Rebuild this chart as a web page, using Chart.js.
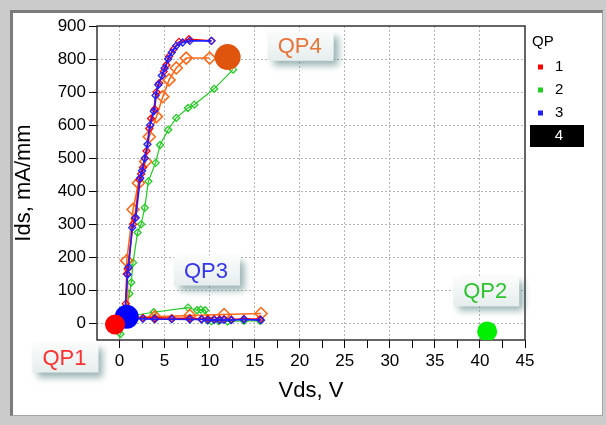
<!DOCTYPE html>
<html>
<head>
<meta charset="utf-8">
<script src="https://cdn.jsdelivr.net/npm/chart.js@4/dist/chart.umd.min.js"></script>
<style>
  html, body { margin: 0; padding: 0; background: #cbcbcb; }
  #wrap { position: relative; width: 606px; height: 425px; overflow: hidden; }
  #panel {
    position: absolute; left: 10px; top: 10px; width: 589px; height: 402px;
    background: #fff;
    border-top: 3px solid #7c7c7c; border-left: 3px solid #7c7c7c;
    border-right: 1px solid #a4a4a4; border-bottom: 1px solid #a4a4a4;
  }
  canvas { position: absolute; left: 0; top: 0; }
</style>
</head>
<body>
<div id="wrap">
  <div id="panel"></div>
  <canvas id="chart" width="606" height="425"></canvas>
</div>
<script>
// QP series names and colours
const qpNames = ["1", "2", "3", "4"];
const qpColors = ["#ff0000", "#22cc22", "#1f1fff", "#ff6a1a"];

// tick labels
const xTicks = [0, 5, 10, 15, 20, 25, 30, 35, 40, 45];
const yTicks = [0, 100, 200, 300, 400, 500, 600, 700, 800, 900];

// QP1 (red)
const vds1 = [15.6, 13.8, 12.4, 11.6, 11.1, 10.5, 9.8, 9.1, 7.8, 5.8, 3.9, 2.6, 1.2, 0.6, 0.7, 0.8, 0.9, 1.5, 1.7, 2.2, 2.4, 2.6, 3.0, 3.3, 3.5, 3.9, 4.1, 4.4, 4.9, 5.2, 5.5, 6.0, 6.6, 7.7, 10.2];
const ids1 = [13, 14, 12, 13, 12, 13, 14, 14, 16, 16, 17, 17, 18, 22, 60, 150, 165, 300, 318, 435, 452, 472, 522, 590, 620, 648, 700, 727, 762, 782, 808, 830, 852, 860, 855];

// QP2 (green)
const vds2 = [15.6, 13.8, 12.0, 11.0, 10.2, 9.8, 9.5, 9.0, 8.6, 7.6, 3.8, 1.0, 0.1, 1.1, 1.3, 1.5, 2.0, 2.4, 2.8, 3.2, 4.0, 4.5, 5.4, 6.3, 7.6, 8.3, 10.5, 12.6];
const ids2 = [8, 8, 6, 7, 7, 9, 40, 42, 40, 48, 34, 22, -32, 90, 124, 184, 275, 300, 350, 430, 486, 540, 586, 622, 652, 662, 710, 768];

// QP3 (blue)
const vds3 = [15.7, 13.8, 12.4, 11.6, 11.1, 10.5, 9.8, 9.1, 7.8, 5.8, 3.9, 2.6, 1.0, 0.6, 0.9, 1.0, 1.4, 1.8, 2.3, 2.5, 2.8, 3.1, 3.4, 3.8, 4.0, 4.3, 4.7, 5.0, 5.4, 5.8, 6.3, 7.0, 7.8, 10.2];
const ids3 = [10, 12, 10, 11, 10, 11, 10, 12, 12, 13, 13, 14, 15, 40, 148, 170, 290, 320, 440, 462, 500, 542, 600, 642, 690, 722, 750, 772, 800, 820, 840, 850, 855, 855];

// QP4 (orange)
const vds4 = [15.7, 11.6, 7.8, 3.9, 1.0, 0.8, 1.5, 2.1, 2.9, 3.3, 4.1, 4.8, 5.5, 6.3, 7.4, 10.0];
const ids4 = [30, 27, 24, 20, 18, 190, 345, 425, 490, 565, 626, 686, 737, 773, 803, 803];

// quiescent points (big dots) for QP1..QP4
const qpVds = [-0.5, 40.8, 0.8, 12.0];
const qpIds = [-3, -24, 20, 806];
const qpDotColors = ["#ff0000", "#00ee00", "#0000ff", "#e0550e"];

// labels next to quiescent points
const tagText = ["QP1", "QP2", "QP3", "QP4"];
const tagColors = ["#ff3030", "#2fc42f", "#3535ee", "#e8743a"];

const xTitle = "Vds, V";
const yTitle = "Ids, mA/mm";
const legendTitle = "QP";

function pts(xs, ys) {
  return xs.map((x, i) => ({ x: x, y: ys[i] }));
}

const lineSets = [[vds1, ids1], [vds2, ids2], [vds3, ids3], [vds4, ids4]];
const lineOrder = [4, 6, 3, 5];
const datasets = [];

lineSets.forEach((s, i) => {
  const big = i === 3;
  datasets.push({
    label: qpNames[i],
    data: pts(s[0], s[1]),
    showLine: true,
    borderColor: qpColors[i],
    backgroundColor: qpColors[i],
    borderWidth: i === 1 ? 1.2 : 1.6,
    pointStyle: "rectRot",
    pointRadius: big ? 6 : 3.5,
    pointBorderWidth: big ? 1.6 : 1.3,
    pointBackgroundColor: "rgba(255,255,255,0)",
    pointBorderColor: qpColors[i],
    order: lineOrder[i]
  });
});

const dotRadius = [10, 10, 12, 13];
const dotOrder = [1, 1, 2, 0];
qpVds.forEach((v, i) => {
  datasets.push({
    label: "qp" + qpNames[i],
    data: [{ x: v, y: qpIds[i] }],
    showLine: false,
    pointStyle: "circle",
    pointRadius: dotRadius[i],
    pointBackgroundColor: qpDotColors[i],
    pointBorderColor: qpDotColors[i],
    borderWidth: 0,
    order: dotOrder[i]
  });
});

const FONT = "'Liberation Sans', Arial, sans-serif";

const decor = {
  id: "decor",
  beforeDatasetsDraw(chart) {
    const { ctx, chartArea: a } = chart;
    ctx.save();
    ctx.strokeStyle = "#333";
    ctx.lineWidth = 1.5;
    ctx.strokeRect(a.left, a.top, a.right - a.left, a.bottom - a.top);
    ctx.restore();
  },
  afterDraw(chart) {
    const { ctx } = chart;
    const xs = chart.scales.x, ys = chart.scales.y;

    // tags near the QP dots
    const tagPos = [[-6.0, -103], [40.7, 97], [9.7, 160], [20.1, 840]];
    tagText.forEach((t, i) => {
      const cx = xs.getPixelForValue(tagPos[i][0]);
      const cy = ys.getPixelForValue(tagPos[i][1]);
      const w = 66, h = 30;
      ctx.save();
      ctx.shadowColor = "rgba(70,115,115,0.55)";
      ctx.shadowBlur = 7;
      ctx.shadowOffsetX = 5;
      ctx.shadowOffsetY = 5;
      const g = ctx.createLinearGradient(0, cy - h / 2, 0, cy + h / 2);
      g.addColorStop(0, "#fbfcfc");
      g.addColorStop(1, "#e6eded");
      ctx.fillStyle = g;
      ctx.fillRect(cx - w / 2, cy - h / 2, w, h);
      ctx.restore();
      ctx.save();
      ctx.font = "22px " + FONT;
      ctx.fillStyle = tagColors[i];
      ctx.textAlign = "center";
      ctx.textBaseline = "middle";
      ctx.fillText(t, cx - 1, cy + 1);
      ctx.restore();
    });

    // legend on the right
    ctx.save();
    ctx.font = "15px " + FONT;
    ctx.fillStyle = "#000";
    ctx.textBaseline = "middle";
    ctx.textAlign = "left";
    ctx.fillText(legendTitle, 532, 42);
    qpNames.forEach((n, i) => {
      const y = 67 + i * 23;
      if (i === 3) {
        ctx.fillStyle = "#000";
        ctx.fillRect(530, y - 11, 54, 22);
        ctx.fillStyle = "#fff";
        ctx.textAlign = "center";
        ctx.fillText(n, 559, y);
      } else {
        ctx.fillStyle = qpColors[i];
        ctx.fillRect(538, y - 2.5, 5, 5);
        ctx.fillStyle = "#000";
        ctx.textAlign = "left";
        ctx.fillText(n, 555, y);
      }
    });
    ctx.restore();
  }
};

Chart.defaults.font.family = FONT;
Chart.defaults.color = "#000";

new Chart(document.getElementById("chart"), {
  type: "scatter",
  data: { datasets: datasets },
  options: {
    responsive: false,
    devicePixelRatio: 1,
    animation: false,
    layout: { padding: { left: 0, right: 81, top: 26, bottom: 0 } },
    plugins: {
      legend: { display: false },
      tooltip: { enabled: false }
    },
    scales: {
      x: {
        type: "linear",
        min: -2.5,
        max: 45,
        afterFit: (s) => { s.height = 85; },
        // major ticks every 5 plus minor ticks halfway between
        afterBuildTicks: (s) => {
          const t = [];
          xTicks.forEach((v) => { t.push({ value: v }); if (v < 45) t.push({ value: v + 2.5 }); });
          s.ticks = t;
        },
        title: { display: true, text: xTitle, font: { size: 22 }, padding: { top: 0, bottom: 21 } },
        ticks: {
          autoSkip: false,
          maxRotation: 0,
          padding: 3,
          font: { size: 17 },
          callback: (v) => (xTicks.includes(v) ? String(v) : "")
        },
        grid: {
          color: (c) => (c.tick && xTicks.includes(c.tick.value) && c.tick.value < 45 ? "#b5b5b5" : "rgba(0,0,0,0)"),
          tickColor: "#000",
          tickLength: 8,
          lineWidth: 1
        },
        border: { display: false, dash: [2, 2] }
      },
      y: {
        type: "linear",
        min: -50,
        max: 900,
        afterFit: (s) => { s.width = 97; },
        afterBuildTicks: (s) => { s.ticks = yTicks.map((v) => ({ value: v })); },
        title: { display: true, text: yTitle, font: { size: 22 }, padding: { top: 11, bottom: 0 } },
        ticks: {
          autoSkip: false,
          padding: 3,
          font: { size: 17 },
          callback: (v) => String(v)
        },
        grid: {
          color: (c) => (c.tick && c.tick.value < 900 ? "#b5b5b5" : "rgba(0,0,0,0)"),
          tickColor: "#000",
          tickLength: 8,
          lineWidth: 1
        },
        border: { display: false, dash: [2, 2] }
      }
    }
  },
  plugins: [decor]
});
</script>
</body>
</html>
